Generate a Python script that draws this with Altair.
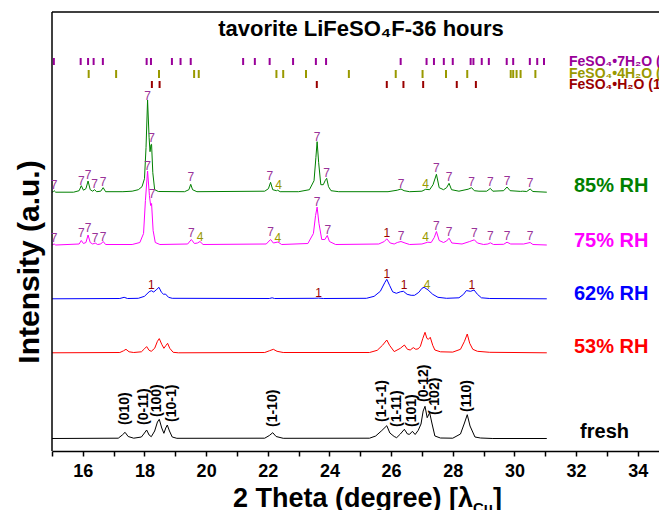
import altair as alt
import pandas as pd

FONT = "Liberation Sans, Arial, DejaVu Sans"

# ---------------- data ----------------
series_names = ["fresh", "53% RH", "62% RH", "75% RH", "85% RH"]
series_offsets = [12, 97.7, 151.7, 205.5, 258.3]
series_colors = ["#000000", "#FF0000", "#0000FF", "#FF00FF", "#008000"]

fresh_x = [15.0, 17.15, 17.28, 17.37, 17.47, 17.65, 17.9, 18.0, 18.07, 18.15, 18.22, 18.33, 18.42, 18.48, 18.56,
           18.63, 18.69, 18.74, 18.81, 18.9, 19.05, 21.9, 22.05, 22.16, 22.27, 22.5, 25.3, 25.5, 25.7, 25.86,
           25.96, 26.1, 26.18, 26.3, 26.43, 26.53, 26.6, 26.69, 26.78, 26.88, 26.97, 27.04, 27.10, 27.17, 27.25,
           27.33, 27.42, 27.6, 28.0, 28.25, 28.38, 28.47, 28.56, 28.72, 28.9, 29.3, 31.05]
fresh_h = [0.5, 0.8, 4, 6.7, 2.5, 0.8, 2, 6, 9, 4, 2.3, 8, 17, 19.7, 11,
           5.7, 11, 14, 8, 2, 0.7, 0.8, 3.5, 6.3, 2.5, 0.7, 0.8, 3, 8.5, 13.3,
           6, 2.5, 1.3, 5, 9.7, 5, 4.7, 7.7, 4.5, 8.7, 15, 28, 32.7, 21.3, 26.3,
           15, 3, 1, 0.8, 5, 16, 24.3, 13, 2, 1, 0.5, 0.5]

rh53_x = [15.0, 17.2, 17.32, 17.40, 17.5, 17.65, 17.9, 18.0, 18.07, 18.15, 18.22, 18.33, 18.42, 18.48, 18.56,
          18.63, 18.7, 18.75, 18.82, 18.93, 19.1, 21.9, 22.05, 22.18, 22.3, 22.5, 25.3, 25.55, 25.72, 25.86,
          25.95, 26.1, 26.3, 26.43, 26.53, 26.62, 26.72, 26.8, 26.88, 26.95, 27.03, 27.10, 27.16, 27.21, 27.27,
          27.35, 27.42, 27.6, 28.0, 28.25, 28.38, 28.47, 28.55, 28.65, 28.8, 29.2, 31.05]
rh53_h = [0.5, 0.8, 2.5, 4, 1.5, 0.8, 1.5, 4.5, 6.7, 3, 2, 5, 12, 14.7, 9,
          5, 8, 10, 5, 1, 0.5, 0.8, 2.5, 4, 2, 0.8, 0.8, 3, 8, 13.3,
          8, 1.7, 5, 8.3, 4, 3.3, 5.7, 4, 4.5, 7, 15, 21, 15, 14, 16,
          8, 3.3, 1.5, 1.2, 4, 12, 19.3, 10, 4, 2, 1, 0.5]

rh62_x = [15.0, 17.2, 17.34, 17.45, 17.8, 18.0, 18.15, 18.22, 18.3, 18.4, 18.47, 18.55, 18.62, 18.68, 18.78,
          18.9, 22.05, 22.14, 22.22, 23.5, 23.65, 23.8, 25.2, 25.45, 25.65, 25.8, 25.86, 25.95, 26.05, 26.17,
          26.3, 26.40, 26.52, 26.65, 26.76, 26.9, 27.0, 27.07, 27.2, 27.35, 27.52, 27.8, 28.2, 28.35, 28.44,
          28.58, 28.69, 28.8, 28.93, 29.2, 31.05]
rh62_h = [0.5, 0.8, 2, 0.8, 1, 3, 7.5, 8.6, 7.3, 10, 12, 7, 5, 5.3, 2,
          1, 0.8, 1.5, 0.8, 1, 1.2, 0.8, 1, 3, 8, 17, 20, 14, 7.5, 6,
          7.5, 8, 5, 4, 4, 7, 11, 12, 9.3, 5, 2, 1, 1.5, 5, 8.7,
          8, 9.3, 5, 1.5, 0.8, 0.5]

rh75_x = [15.0, 15.07, 15.12, 15.88, 15.95, 16.02, 16.1, 16.17, 16.24, 16.32, 16.4, 16.48, 16.58, 16.66, 16.74,
          17.6, 17.85, 17.97, 18.03, 18.10, 18.16, 18.20, 18.23, 18.28, 18.35, 18.5, 19.4, 19.52, 19.62, 19.72,
          19.80, 19.9, 21.95, 22.09, 22.18, 22.33, 22.45, 23.3, 23.48, 23.55, 23.60, 23.66, 23.75, 23.85, 23.93,
          24.0, 24.2, 25.6, 25.78, 25.86, 25.97, 26.1, 26.2, 26.32, 26.45, 26.6, 27.0, 27.19, 27.3, 27.4,
          27.47, 27.56, 27.7, 27.8, 27.88, 27.97, 28.3, 28.55, 28.70, 28.8, 29.0, 29.14, 29.22, 29.32, 29.65,
          29.76, 29.88, 30.3, 30.51, 30.6, 31.05]
rh75_h = [0.5, 1.5, 0.5, 1.5, 5, 2, 3, 10.5, 3, 1.5, 2.5, 1, 1.5, 4, 1,
          1, 3, 12, 45, 74.5, 50, 40, 42, 15, 3, 1, 1.5, 6, 2, 2.5,
          4, 1, 1.5, 6, 2.5, 3.5, 1, 2, 12, 30, 38.4, 22, 6, 6, 10,
          4, 1, 1.5, 4, 6.7, 2.5, 1.5, 3, 4, 2.5, 1, 1.5, 3.3, 3, 8,
          14, 5, 3, 4.5, 7.3, 2.5, 1.5, 4, 5.7, 2.5, 1, 1.5, 2.7, 1, 1.2,
          3.3, 1.5, 1.5, 3, 1, 0.5]

rh85_x = [15.0, 15.04, 15.07, 15.12, 15.7, 15.88, 15.95, 16.02, 16.1, 16.17, 16.24, 16.32, 16.38, 16.45, 16.58,
          16.66, 16.74, 17.3, 17.6, 17.8, 17.92, 18.0, 18.05, 18.10, 18.15, 18.18, 18.21, 18.23, 18.27, 18.33,
          18.45, 19.3, 19.44, 19.50, 19.56, 19.7, 21.9, 22.02, 22.09, 22.16, 22.28, 22.32, 22.4, 23.0, 23.35,
          23.5, 23.56, 23.60, 23.65, 23.72, 23.8, 23.86, 23.91, 23.97, 24.05, 24.3, 25.9, 26.2, 26.32, 26.42,
          26.6, 27.0, 27.12, 27.25, 27.36, 27.47, 27.56, 27.7, 27.8, 27.88, 27.96, 28.2, 28.5, 28.61, 28.7,
          28.85, 29.1, 29.22, 29.3, 29.65, 29.76, 29.86, 30.2, 30.27, 30.4, 30.51, 30.6, 31.05]
rh85_h = [0.5, 1.0, 2.0, 0.5, 0.5, 2, 7, 2.5, 4, 11.7, 3, 1.5, 3, 1, 1.5,
          5, 1, 1, 1.5, 3, 6, 14, 45, 92.7, 55, 41, 48, 48.4, 20, 3,
          1.2, 1, 3, 8.4, 3, 1, 1.5, 4, 10.4, 3, 2, 2.5, 1, 1, 3,
          12, 35, 51, 30, 8, 8, 12, 14.4, 6, 2, 1, 1, 2.5, 3.7, 2,
          1, 1.5, 3.4, 3, 8, 18.4, 5, 3, 5, 9.4, 3, 1.5, 3.5, 5, 2,
          1.5, 1.5, 4.3, 1.5, 2, 5.7, 2, 1.3, 1.5, 1.2, 3.7, 1.2, 0.5]

series_x = [fresh_x, rh53_x, rh62_x, rh75_x, rh85_x]
series_h = [fresh_h, rh53_h, rh62_h, rh75_h, rh85_h]

# reference-pattern bar positions (2theta)
h7_pos = [15.06, 15.93, 16.17, 16.35, 16.65, 18.07, 18.21, 18.89, 19.17, 19.50, 21.20, 21.58, 22.06, 22.82,
          23.56, 23.89, 26.31, 27.15, 27.39, 27.71, 28.00, 28.58, 28.67, 28.94, 29.17, 29.75, 29.96, 30.50,
          30.74, 30.96]
h4_pos = [16.19, 17.08, 18.47, 19.61, 19.76, 22.28, 22.50, 23.24, 24.63, 26.15, 27.02, 27.78, 28.47, 29.88,
          29.96, 30.07, 30.20, 30.68]
h1_pos = [18.24, 18.49, 23.59, 25.86, 26.40, 27.04, 28.13, 28.75]
phase_labels = ["FeSO\u2084\u20227H\u2082O (7)", "FeSO\u2084\u20224H\u2082O (4)", "FeSO\u2084\u2022H\u2082O (1)"]
phase_colors = ["#990099", "#999900", "#990000"]

# peak phase markers on the patterns (x, y, phase id)
mark_x = [15.07, 15.95, 16.17, 16.38, 16.66, 18.10, 18.23, 19.50, 22.07, 22.35, 23.60, 23.91, 26.32, 27.12,
          27.47, 27.88, 28.61, 29.22, 29.76, 30.51,
          15.07, 15.95, 16.17, 16.40, 16.66, 18.10, 18.25, 19.52, 19.80, 22.09, 22.33, 23.60, 23.95, 25.86,
          26.32, 27.12, 27.47, 27.88, 28.70, 29.22, 29.76, 30.51,
          18.22, 23.65, 25.86, 26.42, 27.17, 28.62]
mark_y = [266, 270.3, 276, 267, 269, 355, 313, 274, 275, 266, 314, 278, 267, 267,
          283, 274, 269, 269, 270, 268,
          213, 218, 223, 213, 214, 285.3, 257, 218.3, 214.3, 219, 213.3, 249.3, 221.3, 218.3,
          215.3, 214.3, 225.3, 219.3, 218, 215.3, 215.3, 215.3,
          166, 158.3, 177, 166, 166, 166]
mark_t = ["7", "7", "7", "7", "7", "7", "7", "7", "7", "4", "7", "7", "7", "4",
          "7", "7", "7", "7", "7", "7",
          "7", "7", "7", "7", "7", "7", "7", "7", "4", "7", "4", "7", "7", "1",
          "7", "4", "7", "7", "7", "7", "7", "7",
          "1", "1", "1", "1", "4", "1"]

# Miller indices of the fresh tavorite pattern
hkl_x = [17.37, 17.99, 18.42, 18.88, 22.16, 25.71, 26.18, 26.69, 27.07, 27.42, 28.47]
hkl_y = [26, 26, 34, 29, 24, 29, 24, 24, 49, 36, 39]
hkl_t = ["(010)", "(0-11)", "(100)", "(10-1)", "(1-10)", "(1-1-1)", "(1-11)", "(101)", "(0-12)", "(-102)", "(110)"]

# sample labels
rh_label_x = [32.13, 31.93, 31.93, 31.93, 31.93]
rh_label_y = [19.3, 104.3, 157, 210.3, 265]

title_text = "tavorite LiFeSO\u2084F-36 hours"
x_ticks = list(range(15, 35))

# ---------------- chart ----------------
W, H = 607, 439
xs = alt.Scale(domain=[15, 34.69], nice=False, zero=False)
ys = alt.Scale(domain=[0, 439], nice=False, zero=False)

rows = []
for name, off, col, xv, hv in zip(series_names, series_offsets, series_colors, series_x, series_h):
    for a, b in zip(xv, hv):
        rows.append({"series": name, "x": a, "y": off + b, "col": col})
curves = pd.DataFrame(rows)

xaxis = alt.Axis(values=x_ticks, labelExpr="datum.value % 2 == 0 ? datum.label : ''",
                 tickSize=5, tickWidth=1.5, tickColor="black", domainColor="black", domainWidth=1.5,
                 labelFont=FONT, labelFontSize=18, labelFontWeight="bold", labelColor="black",
                 labelPadding=6, labelFlush=False, labelOverlap=False, grid=False, title=None)


def X():
    return alt.X("x:Q", scale=xs, axis=xaxis)


def Y():
    return alt.Y("y:Q", scale=ys, axis=None)


line = alt.Chart(curves).mark_line(strokeWidth=1).encode(
    x=X(), y=Y(),
    color=alt.Color("col:N", scale=None),
    detail="series:N",
    order="x:Q",
)

one = pd.DataFrame({"a": [0]})
frame_left = alt.Chart(one).mark_rule(color="black", strokeWidth=1.5).encode(
    x=alt.value(0), y=alt.value(0), y2=alt.value(H))
frame_top = alt.Chart(one).mark_rule(color="black", strokeWidth=1.5).encode(
    x=alt.value(0), x2=alt.value(W), y=alt.value(0))

layers = [line, frame_left, frame_top]

# reference bars
row_px = [(46, 53), (58, 66), (69, 76)]
for pos, col, (y0, y1) in zip([h7_pos, h4_pos, h1_pos], phase_colors, row_px):
    d = pd.DataFrame({"x": pos})
    layers.append(alt.Chart(d).mark_rule(color=col, strokeWidth=2).encode(
        x=X(), y=alt.value(y0), y2=alt.value(y1)))

# phase legend text
for lab, col, (y0, y1) in zip(phase_labels, phase_colors, row_px):
    layers.append(alt.Chart(one).mark_text(text=lab, font=FONT, fontSize=14, fontWeight="bold", color=col,
                                           align="left", baseline="middle").encode(
        x=alt.value(517), y=alt.value((y0 + y1) / 2)))

# peak phase markers
mcol = {"7": "#993399", "4": "#999900", "1": "#990000"}
md = pd.DataFrame({"x": mark_x, "y": mark_y, "t": mark_t, "col": [mcol[t] for t in mark_t]})
layers.append(alt.Chart(md).mark_text(font=FONT, fontSize=12, baseline="middle", align="center").encode(
    x=X(), y=Y(), text="t:N", color=alt.Color("col:N", scale=None)))

# Miller indices
hd = pd.DataFrame({"x": hkl_x, "y": hkl_y, "t": hkl_t})
layers.append(alt.Chart(hd).mark_text(font=FONT, fontSize=14, fontWeight="bold", angle=270, align="left",
                                      baseline="middle", color="black").encode(
    x=X(), y=Y(), text="t:N"))

# RH labels
rd = pd.DataFrame({"x": rh_label_x, "y": rh_label_y, "t": series_names, "col": series_colors})
layers.append(alt.Chart(rd).mark_text(font=FONT, fontSize=20, fontWeight="bold", align="left",
                                      baseline="middle").encode(
    x=X(), y=Y(), text="t:N", color=alt.Color("col:N", scale=None)))

# title
layers.append(alt.Chart(one).mark_text(text=title_text, font=FONT, fontSize=22, fontWeight="bold",
                                       align="center", baseline="alphabetic", color="black").encode(
    x=alt.value(309), y=alt.value(24)))

# axis titles
layers.append(alt.Chart(one).mark_text(text="Intensity (a.u.)", font=FONT, fontSize=30, fontWeight="bold",
                                       angle=270, align="center", baseline="middle", color="black").encode(
    x=alt.value(-22), y=alt.value(250)))
layers.append(alt.Chart(one).mark_text(text="2 Theta (degree) [\u03bb", font=FONT, fontSize=27,
                                       fontWeight="bold", align="left", baseline="alphabetic",
                                       color="black").encode(x=alt.value(181), y=alt.value(495)))
layers.append(alt.Chart(one).mark_text(text="Cu", font=FONT, fontSize=15, fontWeight="bold", align="left",
                                       baseline="alphabetic", color="black").encode(
    x=alt.value(421), y=alt.value(501)))
layers.append(alt.Chart(one).mark_text(text="]", font=FONT, fontSize=27, fontWeight="bold", align="left",
                                       baseline="alphabetic", color="black").encode(
    x=alt.value(441), y=alt.value(495)))

chart = alt.layer(*layers).properties(
    width=W, height=H,
    padding={"left": 44, "top": 4, "right": 0, "bottom": 59},
    autosize=alt.AutoSizeParams(type="none"),
).configure_view(stroke=None)

chart.save("out.html", embed_options={"renderer": "svg", "actions": False})
